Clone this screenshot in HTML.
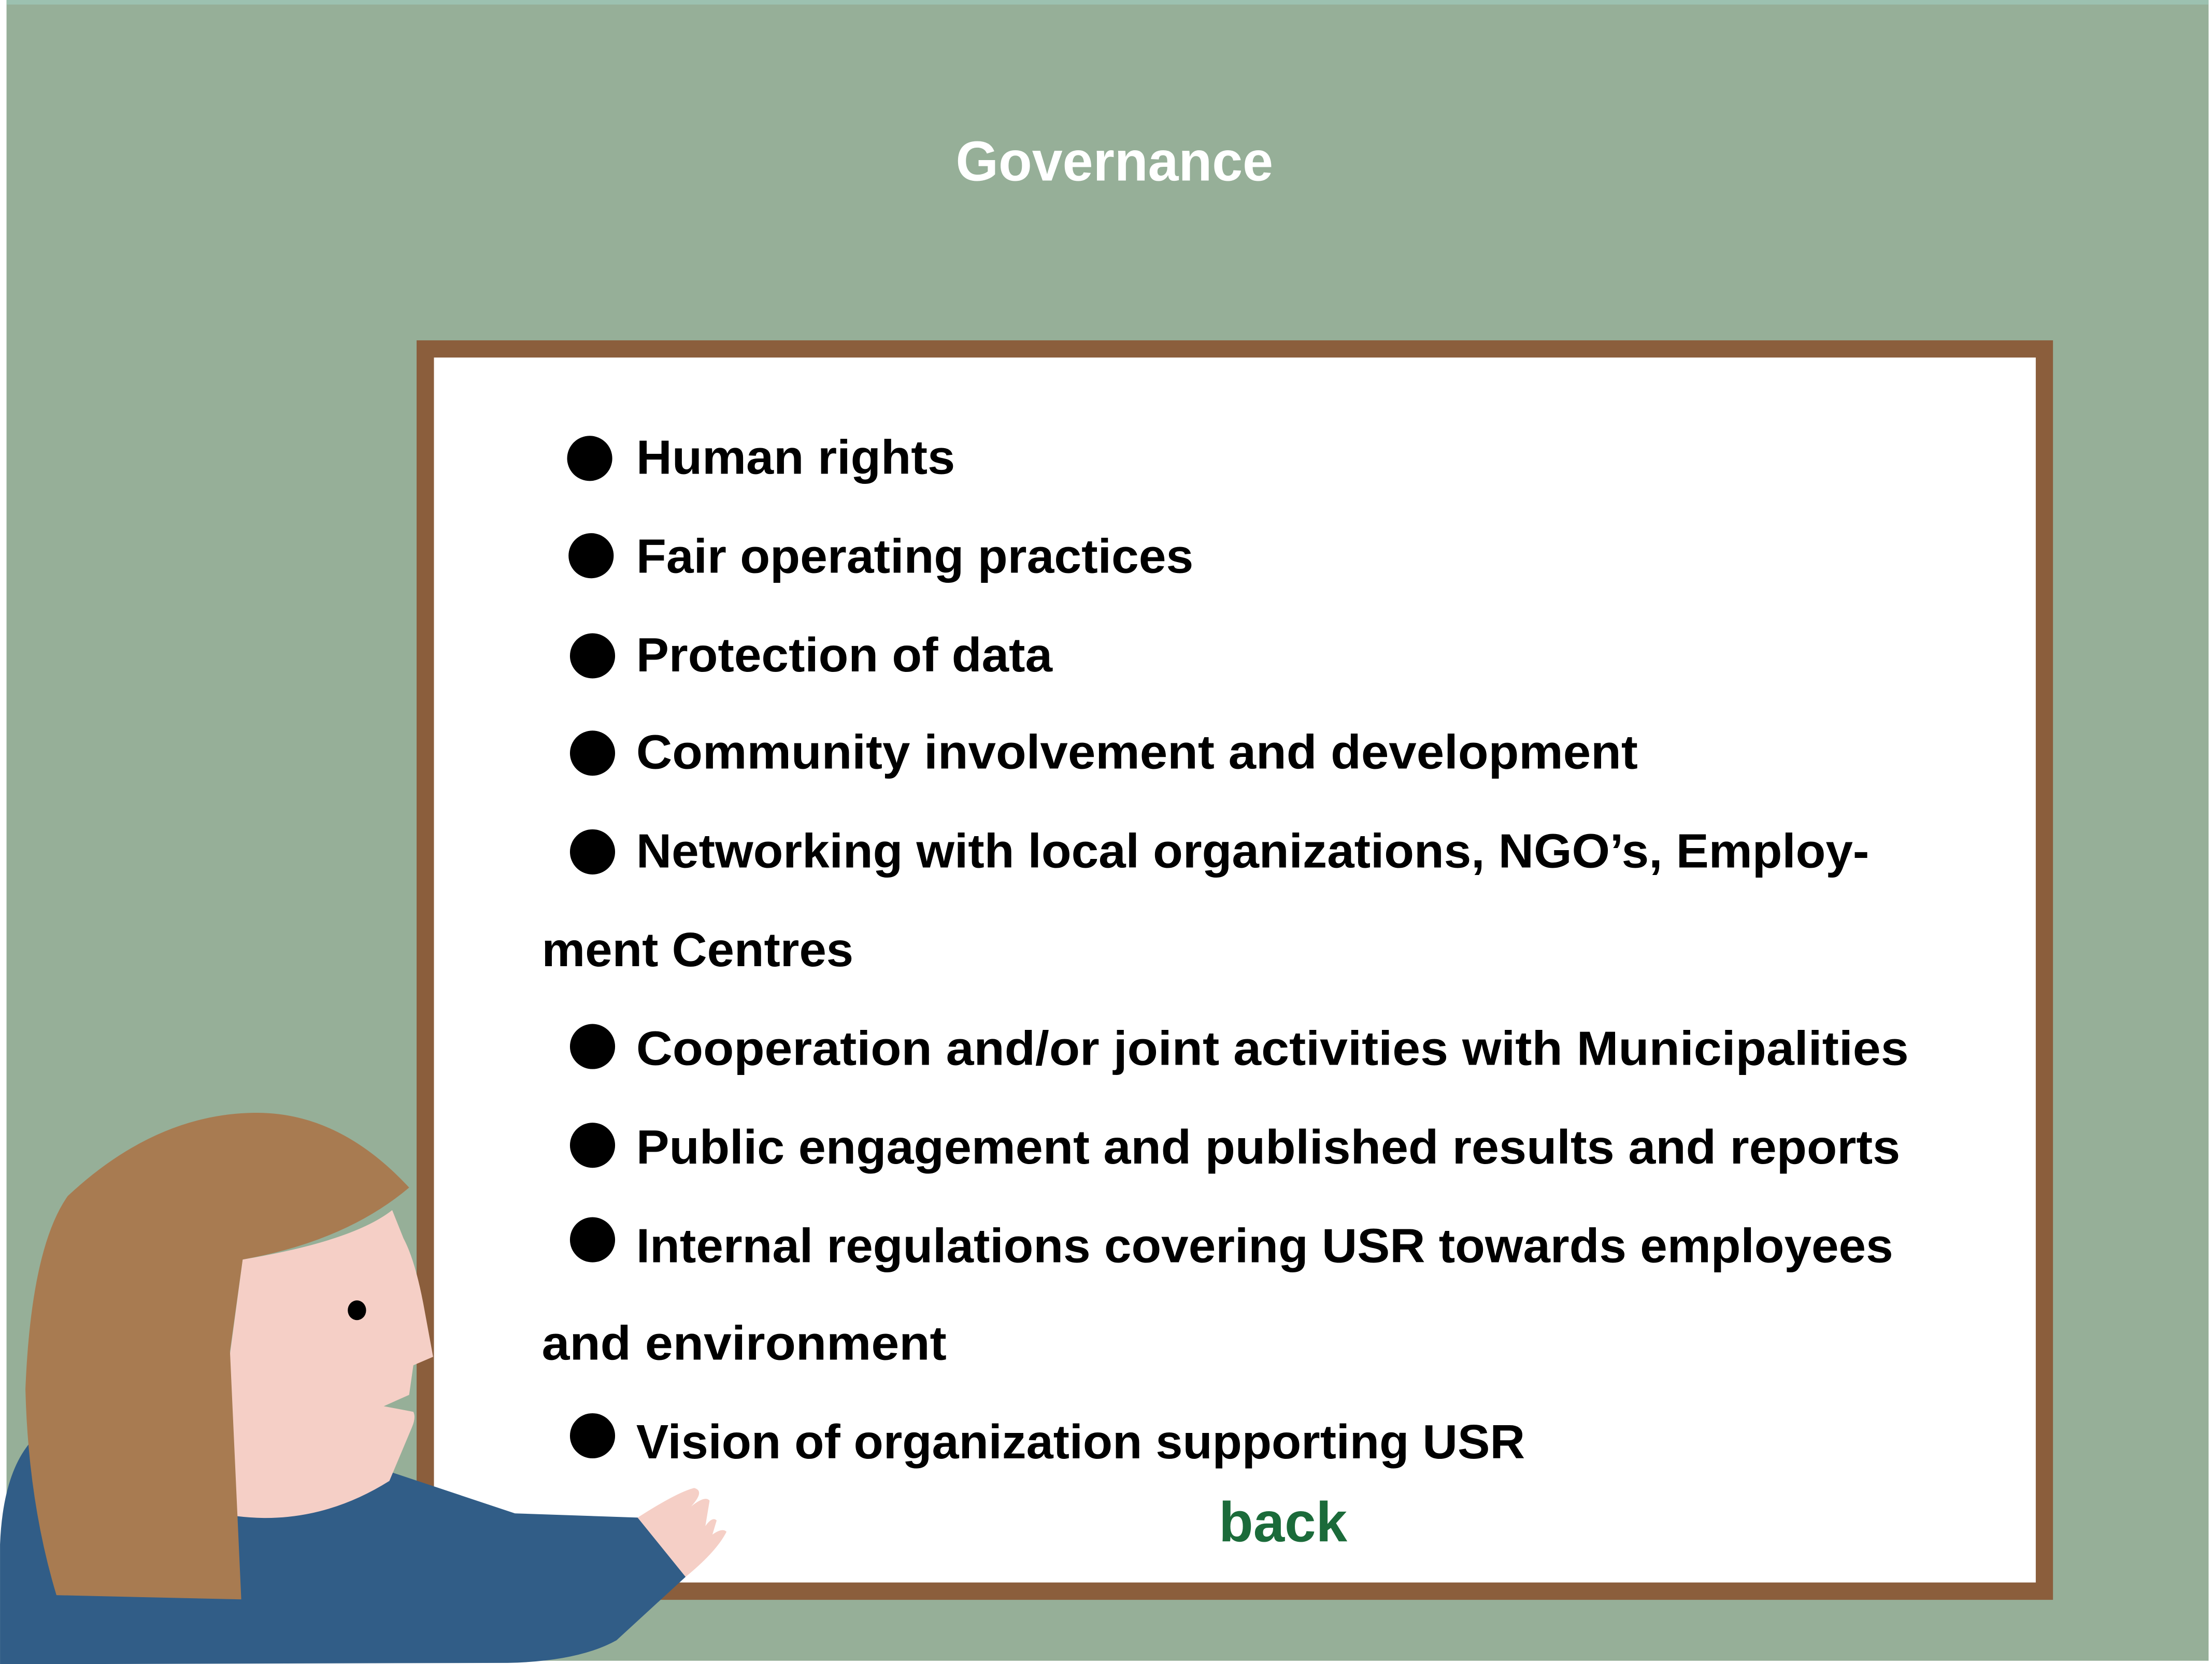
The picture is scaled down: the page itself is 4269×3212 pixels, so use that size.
<!DOCTYPE html>
<html><head><meta charset="utf-8"><style>
html,body{margin:0;padding:0;background:#fff;}
svg{display:block}
text{font-family:"Liberation Sans Narrow","Liberation Sans",sans-serif;font-weight:bold;}
</style></head><body>
<svg width="4269" height="3212" viewBox="0 0 1568 1179.8" xmlns="http://www.w3.org/2000/svg">
<rect x="0" y="0" width="1568" height="1180" fill="#ffffff"/>
<rect x="4.6" y="0" width="1561" height="1177.5" fill="#96AF98"/>
<rect x="4.6" y="0" width="1561" height="3.2" fill="#9CC1B0"/>
<text x="790" y="128" font-size="40" fill="#ffffff" text-anchor="middle" textLength="225" lengthAdjust="spacingAndGlyphs">Governance</text>
<rect x="295.3" y="241.3" width="1160" height="893" fill="#8B5E3C"/>
<rect x="307.6" y="253.5" width="1135.5" height="868.5" fill="#ffffff"/>
<g fill="#000">
<circle cx="418" cy="325" r="16"/>
<circle cx="419" cy="394" r="16"/>
<circle cx="420" cy="465" r="16"/>
<circle cx="420" cy="534" r="16"/>
<circle cx="420" cy="604" r="16"/>
<circle cx="420" cy="742" r="16"/>
<circle cx="420" cy="812" r="16"/>
<circle cx="420" cy="879" r="16"/>
<circle cx="420" cy="1018" r="16"/>
</g>
<g font-size="34" fill="#000">
<text x="451" y="336" textLength="226" lengthAdjust="spacingAndGlyphs">Human rights</text>
<text x="451" y="406" textLength="395" lengthAdjust="spacingAndGlyphs">Fair operating practices</text>
<text x="451" y="476" textLength="295" lengthAdjust="spacingAndGlyphs">Protection of data</text>
<text x="451" y="545" textLength="710" lengthAdjust="spacingAndGlyphs">Community involvement and development</text>
<text x="451" y="615" textLength="874" lengthAdjust="spacingAndGlyphs">Networking with local organizations, NGO’s, Employ-</text>
<text x="384" y="685" textLength="221" lengthAdjust="spacingAndGlyphs">ment Centres</text>
<text x="451" y="755" textLength="902" lengthAdjust="spacingAndGlyphs">Cooperation and/or joint activities with Municipalities</text>
<text x="451" y="825" textLength="896" lengthAdjust="spacingAndGlyphs">Public engagement and published results and reports</text>
<text x="451" y="895" textLength="891" lengthAdjust="spacingAndGlyphs">Internal regulations covering USR towards employees</text>
<text x="384" y="964" textLength="287" lengthAdjust="spacingAndGlyphs">and environment</text>
<text x="451" y="1034" textLength="630" lengthAdjust="spacingAndGlyphs">Vision of organization supporting USR</text>
</g>
<text x="864" y="1093" font-size="40" fill="#1B6B3A" textLength="91" lengthAdjust="spacingAndGlyphs">back</text>
<g>
<path d="M0,1180 L0,1095 Q2,1045 22,1022 L278,1044 L365,1073 L452,1076 L486,1118 L437,1163 Q410,1178 360,1179 L0,1180 Z" fill="#315D87"/>
<path d="M452,1076 Q480,1058 492,1055 Q500,1057 490,1068 Q500,1060 503,1064 L500,1082 Q505,1075 508,1078 L505,1088 Q512,1083 515,1086 Q508,1100 486,1118 Z" fill="#F5CFC6"/>
<path d="M172,893 L163,960 L168,1075 Q225,1082 276,1050 L292,1012 Q295,1005 293,1001 L272,997 L290,989 L293,968 L307,962 L300,924 Q294,893 286,878 L278,858 Q250,880 172,893 Z" fill="#F5CFC6"/>
<path d="M40,1131 L171,1134 L163,958 L172,893 Q245,880 290,842 Q240,788 180,789 Q110,790 48,848 Q22,885 18,985 Q20,1065 40,1131 Z" fill="#A87B51"/>
<ellipse cx="253" cy="929" rx="6.5" ry="7" fill="#000"/>
</g>
</svg>
</body></html>
